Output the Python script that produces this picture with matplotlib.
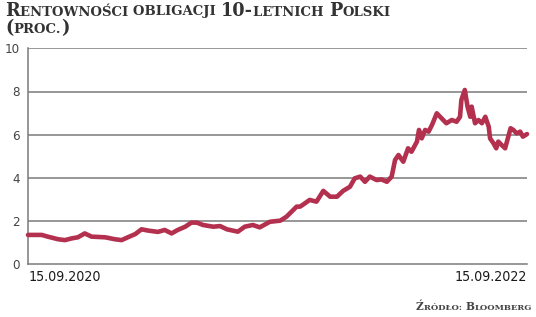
import matplotlib
matplotlib.use("Agg")
import matplotlib.pyplot as plt

# yields, x = days since 15.09.2020
days = [0, 20, 29, 44, 54, 64, 73, 83, 93, 113, 127, 137, 146, 157, 166, 176, 190,
        200, 210, 219, 230, 239, 247, 256, 271, 281, 291, 307, 317, 329, 339, 354,
        369, 378, 393, 398, 405, 412, 422, 432, 442, 452, 461, 471, 478, 486, 493,
        500, 510, 517, 525, 532, 537, 542, 549, 556, 561, 569, 572, 576, 581, 586,
        591, 598, 605, 612, 620, 627, 632, 634, 639, 643, 647, 649, 654, 659, 664,
        669, 674, 676, 681, 685, 688, 693, 698, 706, 710, 715, 720, 724, 730]
yields = [1.36, 1.36, 1.28, 1.16, 1.12, 1.20, 1.25, 1.43, 1.28, 1.25, 1.16, 1.12, 1.25,
          1.40, 1.62, 1.56, 1.50, 1.59, 1.43, 1.59, 1.74, 1.93, 1.93, 1.82, 1.74, 1.77,
          1.62, 1.51, 1.74, 1.82, 1.71, 1.97, 2.02, 2.20, 2.67, 2.67, 2.82, 2.98, 2.90,
          3.40, 3.13, 3.13, 3.40, 3.59, 3.98, 4.06, 3.82, 4.06, 3.90, 3.93, 3.82, 4.06,
          4.83, 5.06, 4.75, 5.37, 5.21, 5.68, 6.22, 5.83, 6.22, 6.14, 6.45, 6.99, 6.76,
          6.53, 6.68, 6.60, 6.83, 7.61, 8.07, 7.30, 6.83, 7.30, 6.53, 6.68, 6.53, 6.83,
          6.37, 5.83, 5.60, 5.37, 5.68, 5.52, 5.37, 6.30, 6.22, 6.06, 6.14, 5.91, 6.03]
yticks = [0, 2, 4, 6, 8, 10]
xlabels = ["15.09.2020", "15.09.2022"]

narrow = ["DejaVu Sans"]
serif = ["DejaVu Serif"]

fig = plt.figure(figsize=(5.36, 3.17), dpi=100)
ax = fig.add_axes([28 / 536, 52.7 / 317, 499 / 536, 216 / 317])

ax.plot(days, yields, color="#b3304f", lw=3.3, solid_capstyle="round",
        solid_joinstyle="round", clip_on=False, zorder=3)

ax.set_xlim(0, 730)
ax.set_ylim(0, 10)
ax.set_yticks(yticks)
ax.set_yticklabels([str(v) for v in yticks], family=narrow, stretch="condensed",
                   fontsize=9.5, color="#444444")
ax.set_xticks([])
ax.tick_params(axis="y", length=0, pad=6)
for v in yticks[1:]:
    ax.axhline(v, color="#7a7a7a", lw=1.1, zorder=1)
for s in ["top", "right"]:
    ax.spines[s].set_visible(False)
for s in ["left", "bottom"]:
    ax.spines[s].set_color("#7a7a7a")
    ax.spines[s].set_linewidth(1.1)

ax.text(0.002, -0.025, xlabels[0], transform=ax.transAxes, ha="left", va="top",
        family=narrow, stretch="condensed", fontsize=10.2, color="#1a1a1a")
ax.text(1.0, -0.025, xlabels[1], transform=ax.transAxes, ha="right", va="top",
        family=narrow, stretch="condensed", fontsize=10.2, color="#1a1a1a")


def small_caps(x, y, pieces, ha="left", color="#333333"):
    # pieces: (text, size) drawn side by side on one baseline, x/y in pixels
    r = fig.canvas.get_renderer()
    texts = []
    cx = x
    for s, size in pieces:
        t = fig.text(cx / 536, 1 - y / 317, s, fontsize=size, family=serif,
                     weight="bold", color=color, va="baseline", ha="left")
        bb = t.get_window_extent(r)
        cx = bb.x1 + 0.3
        texts.append(t)
    if ha == "right":
        shift = x - cx
        for t in texts:
            px, py = t.get_position()
            t.set_position((px + shift / 536, py))


big, small = 12.7, 9.5
small_caps(5, 15.5, [("R", big), ("ENTOWNOŚCI ", small), ("OBLIGACJI ", small),
                     ("10-", big), ("LETNICH ", small), ("P", big), ("OLSKI", small)])
small_caps(5, 33, [("(", big), ("PROC.", small), (")", big)])
small_caps(532, 310, [("Ź", 7.7), ("RÓDŁO: ", 6.0), ("B", 7.7), ("LOOMBERG", 6.0)],
           ha="right", color="#444444")

fig.savefig("out.png", dpi=100)
